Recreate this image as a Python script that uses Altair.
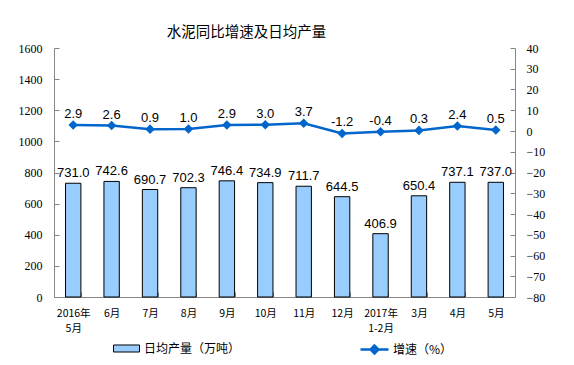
import altair as alt
import pandas as pd

categories = ["2016年\n5月", "6月", "7月", "8月", "9月", "10月", "11月", "12月",
              "2017年\n1-2月", "3月", "4月", "5月"]
production = [731.0, 742.6, 690.7, 702.3, 746.4, 734.9, 711.7, 644.5, 406.9, 650.4, 737.1, 737.0]
growth = [2.9, 2.6, 0.9, 1.0, 2.9, 3.0, 3.7, -1.2, -0.4, 0.3, 2.4, 0.5]
prod_ticks = [0, 200, 400, 600, 800, 1000, 1200, 1400, 1600]
growth_ticks = [-80, -70, -60, -50, -40, -30, -20, -10, 0, 10, 20, 30, 40]

df = pd.DataFrame({
    "cat": categories,
    "prod": production,
    "growth": growth,
    "prod_label": [f"{v:.1f}" for v in production],
    "growth_label": [f"{v:.1f}" for v in growth],
    "s1": ["日均产量（万吨）"] * len(categories),
    "s2": ["增速（%）"] * len(categories),
})

AX = "#868686"
SANS = "Liberation Sans"
SERIF = "Liberation Serif"
CJK = "Noto Sans CJK SC"
INWARD = alt.ExprRef(expr="-5")

x_axis = alt.Axis(labelAngle=0, labelExpr="split(datum.label, '\\n')",
                  tickBand="extent", domainColor=AX, tickColor=AX, tickSize=INWARD,
                  labelFont=CJK, labelFontSize=10.5, labelColor="#000",
                  labelPadding=16, labelLineHeight=15)
x = alt.X("cat:N", sort=categories, title=None,
          scale=alt.Scale(paddingInner=0.6, paddingOuter=0.3), axis=x_axis)

left_axis = alt.Axis(values=prod_ticks, format="d", grid=False, orient="left",
                     domainColor=AX, tickColor=AX, tickSize=INWARD,
                     labelFont=SERIF, labelFontSize=12, labelColor="#000", labelPadding=17)
right_axis = alt.Axis(values=growth_ticks, format="d", grid=False, orient="right",
                      domainColor=AX, tickColor=AX, tickSize=INWARD,
                      labelFont=SERIF, labelFontSize=12, labelColor="#000", labelPadding=16)
y_prod = alt.Y("prod:Q", title=None, scale=alt.Scale(domain=[0, 1600]), axis=left_axis)
y_growth = alt.Y("growth:Q", title=None, scale=alt.Scale(domain=[-80, 40]), axis=right_axis)

bars = alt.Chart(df).mark_bar(stroke="black", strokeWidth=1).encode(
    x=x,
    y=y_prod,
    color=alt.Color("s1:N", title=None,
                    scale=alt.Scale(range=["#99ccff"]),
                    legend=alt.Legend(orient="none", legendX=59, legendY=287,
                                      symbolType="M-1,-0.27H1V0.27H-1Z", symbolSize=676,
                                      symbolStrokeColor="black", symbolStrokeWidth=1,
                                      symbolOpacity=1, labelOffset=4,
                                      labelFont=CJK, labelFontSize=12, labelColor="#000")),
)

bar_text = alt.Chart(df).mark_text(dy=-10, font=SANS, fontSize=13, color="#000").encode(
    x=x, y=y_prod, text="prod_label:N",
)

left = alt.layer(bars, bar_text)

line = alt.Chart(df).mark_line(color="#0066cc", strokeWidth=2.5,
                               point=alt.OverlayMarkDef(shape="diamond", size=45, color="#0066cc", filled=True)).encode(
    x=x,
    y=y_growth,
    stroke=alt.Stroke("s2:N", title=None,
                      scale=alt.Scale(range=["#0066cc"]),
                      legend=alt.Legend(orient="none", legendX=305, legendY=286,
                                        symbolType="M-1,0H1M0,-0.28L0.28,0L0,0.28L-0.28,0Z",
                                        symbolSize=784, symbolStrokeWidth=2.5,
                                        symbolFillColor="#0066cc", labelOffset=3,
                                        labelFont=CJK, labelFontSize=12, labelColor="#000")),
)

line_text = alt.Chart(df).mark_text(dy=-11, font=SANS, fontSize=13, color="#000").encode(
    x=x, y=y_growth, text="growth_label:N",
)

right = alt.layer(line, line_text)

chart = alt.layer(left, right).resolve_scale(y="independent", color="independent", stroke="independent").properties(
    width=461, height=249,
    autosize=alt.AutoSizeParams(type="none"),
    padding={"left": 46, "top": 40, "right": 51, "bottom": 60},
    title=alt.TitleParams("水泥同比增速及日均产量", font=CJK, fontSize=14.5, fontWeight="normal",
                          color="#000", anchor="middle", dx=-38, offset=2),
).configure_view(stroke=None)

chart.save("out.html", embed_options={"renderer": "svg", "actions": False})
